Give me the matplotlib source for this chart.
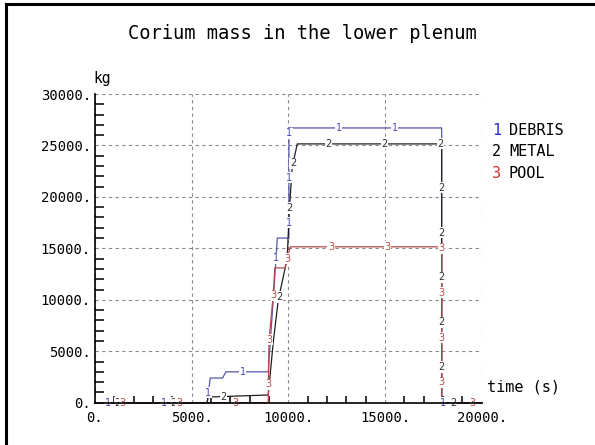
import numpy as np
import matplotlib
matplotlib.use("Agg")
import matplotlib.pyplot as plt
from matplotlib.ticker import MultipleLocator, FuncFormatter
from matplotlib.lines import Line2D

# Corium mass histories (time in s, mass in kg)
debris_t = [0, 5800, 5960, 6600, 6770, 8960, 9330, 9430, 10030, 10030, 17930, 17930, 20000]
debris_m = [0, 0, 2400, 2400, 3000, 3000, 13100, 16000, 16000, 26700, 26700, 0, 0]

metal_t = [0, 5800, 5850, 8960, 9220, 9480, 9940, 10050, 10200, 10460, 17930, 17930, 20000]
metal_m = [0, 0, 550, 750, 5900, 10000, 14000, 18700, 22900, 25150, 25150, 0, 0]

pool_t = [0, 8960, 9000, 9220, 9300, 9830, 10100, 17930, 17930, 20000]
pool_m = [0, 0, 6100, 10500, 13100, 13100, 15150, 15150, 0, 0]

series_names = ["DEBRIS", "METAL", "POOL"]
series_ids = ["1", "2", "3"]

x_ticks = [0, 5000, 10000, 15000, 20000]
y_ticks = [0, 5000, 10000, 15000, 20000, 25000, 30000]
XMAX, YMAX = 20000, 30000

MONO = "DejaVu Sans Mono"

W, H = 595, 445
fig = plt.figure(figsize=(W / 100, H / 100), dpi=100)

# outer frame
fig.add_artist(Line2D([6 / W, 6 / W], [0, 1 - 4 / H], transform=fig.transFigure,
                      color="black", lw=2.2))
fig.add_artist(Line2D([6 / W, 1.0], [1 - 4 / H, 1 - 4 / H], transform=fig.transFigure,
                      color="black", lw=2.2))

left, right, top, bottom = 95, 481.7, 94, 402.7
AXW, AXH = right - left, bottom - top
ax = fig.add_axes([left / W, 1 - bottom / H, AXW / W, AXH / H])
ax.set_xlim(0, XMAX)
ax.set_ylim(0, YMAX)

for side in ("top", "right"):
    ax.spines[side].set_visible(False)
for side in ("left", "bottom"):
    ax.spines[side].set_linewidth(1.2)
    ax.spines[side].set_zorder(5)

ax.set_xticks(x_ticks)
ax.set_yticks(y_ticks)
ax.xaxis.set_minor_locator(MultipleLocator(1000))
ax.yaxis.set_minor_locator(MultipleLocator(1000))
fmt = FuncFormatter(lambda v, p: f"{v:.0f}.")
ax.xaxis.set_major_formatter(fmt)
ax.yaxis.set_major_formatter(fmt)
ax.tick_params(axis="both", which="major", length=0)
ax.tick_params(axis="y", which="major", pad=3)
ax.tick_params(axis="x", which="major", pad=6)
ax.tick_params(axis="x", which="minor", direction="in", length=5, width=1.1, color="black")
ax.tick_params(axis="y", which="minor", direction="in", length=6.5, width=1.1, color="black")
for lab in ax.get_xticklabels() + ax.get_yticklabels():
    lab.set_fontfamily(MONO)
    lab.set_fontsize(10)
ax.grid(True, which="major", color="#8a8a8a", linestyle=(0, (3, 3)), linewidth=0.8)
ax.set_axisbelow(True)

# line colour, label colour, first-label offset along the curve
series = [
    (debris_t, debris_m, "#5656a8", "#4848b0", 0.0326),
    (metal_t, metal_m, "#202020", "#303030", 0.058),
    (pool_t, pool_m, "#b84a4a", "#c04848", 0.072),
]

STEP = 0.145


def label_points(t, m, phase, step):
    """Evenly spaced points along the curve, measured in axes fractions."""
    fx = np.asarray(t, float) / XMAX
    fy = np.asarray(m, float) / YMAX
    seg = np.hypot(np.diff(fx), np.diff(fy))
    cum = np.concatenate([[0], np.cumsum(seg)])
    s = np.arange(phase, cum[-1], step)
    return np.interp(s, cum, fx) * XMAX, np.interp(s, cum, fy) * YMAX


for t, m, lc, tc, phase in series:
    ax.plot(t, m, color=lc, lw=0.9, zorder=3, clip_on=False)

# curve numbers; a later number drawn on top hides an earlier one beneath it
placed = []
for (t, m, lc, tc, phase), sid in zip(series, series_ids):
    xs, ys = label_points(t, m, phase, STEP)
    for x, y in zip(xs, ys):
        px, py = x / XMAX * AXW, y / YMAX * AXH
        placed = [p for p in placed
                  if not (abs(p[0] - px) < 5 and abs(p[1] - py) < 9)]
        placed.append((px, py, x, y, sid, tc))

for px, py, x, y, sid, tc in placed:
    ax.text(x, y, sid, color=tc, fontsize=7, ha="center", va="center",
            family="DejaVu Sans", zorder=4, clip_on=False,
            bbox=dict(facecolor="white", edgecolor="none", pad=0.4))

# title and axis names
fig.text(302 / W, 1 - 39 / H, "Corium mass in the lower plenum", family=MONO,
         fontsize=13.5, ha="center", va="baseline")
fig.text(93 / W, 1 - 83 / H, "kg", family=MONO, fontsize=10.5, ha="left", va="baseline")
fig.text(487 / W, 1 - 387 / H, "time (s)", family=MONO, fontsize=11, ha="left", va="center")

# series key
key_colors = ["#2a2ad0", "#000000", "#d43030"]
for i, (sid, name, kc) in enumerate(zip(series_ids, series_names, key_colors)):
    y = 1 - (131 + 21 * i) / H
    fig.text(492 / W, y, sid, family=MONO, fontsize=11, color=kc, ha="left", va="center")
    fig.text(509 / W, y, name, family=MONO, fontsize=11, color="black", ha="left", va="center")

fig.savefig("out.png", dpi=100)
